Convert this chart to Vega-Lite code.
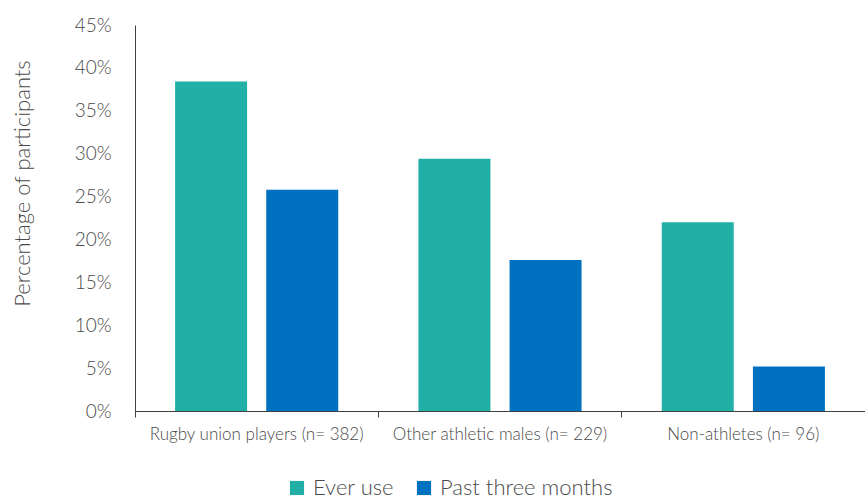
{
  "$schema": "https://vega.github.io/schema/vega-lite/v6.json",
  "width": 730,
  "height": 386,
  "autosize": {"type": "none"},
  "padding": {"left": 135, "top": 25, "right": 0, "bottom": 88},
  "background": "white",
  "data": {
    "values": [
      {"group": "Rugby union players (n= 382)", "series": "Ever use", "value": 0.384},
      {"group": "Rugby union players (n= 382)", "series": "Past three months", "value": 0.258},
      {"group": "Other athletic males (n= 229)", "series": "Ever use", "value": 0.294},
      {"group": "Other athletic males (n= 229)", "series": "Past three months", "value": 0.176},
      {"group": "Non-athletes (n= 96)", "series": "Ever use", "value": 0.220},
      {"group": "Non-athletes (n= 96)", "series": "Past three months", "value": 0.052}
    ]
  },
  "config": {
    "view": {"stroke": null},
    "font": "Lato",
    "axis": {"labelColor": "#4a4a4a", "titleColor": "#4a4a4a", "labelFont": "Lato", "titleFont": "Lato"}
  },
  "mark": {"type": "bar"},
  "encoding": {
    "x": {
      "field": "group", "type": "nominal",
      "sort": ["Rugby union players (n= 382)", "Other athletic males (n= 229)", "Non-athletes (n= 96)"],
      "scale": {"paddingInner": 0, "paddingOuter": 0},
      "axis": {
        "title": null, "labelAngle": 0, "labelFontSize": 17, "labelPadding": 9, "labelLimit": 0,
        "domainColor": "#404040", "tickColor": "#404040", "tickSize": 6,
        "bandPosition": 0, "labelFontWeight": 300
      }
    },
    "xOffset": {
      "field": "series", "type": "nominal",
      "scale": {"paddingInner": 0.21, "paddingOuter": 0.44}
    },
    "y": {
      "field": "value", "type": "quantitative",
      "scale": {"domain": [0, 0.45]},
      "axis": {
        "title": "Percentage of participants", "format": ".0%", "values": [0, 0.05, 0.1, 0.15, 0.2, 0.25, 0.3, 0.35, 0.4, 0.45],
        "grid": false, "ticks": false, "labelFontSize": 19, "labelPadding": 24,
        "titleFontSize": 22, "titleFontWeight": 300, "titlePadding": 40, "labelFontWeight": 300,
        "titleY": 158,
        "domainColor": "#404040"
      }
    },
    "color": {
      "field": "series", "type": "nominal",
      "scale": {"domain": ["Ever use", "Past three months"], "range": ["#22AFA6", "#0070C0"]},
      "legend": {
        "title": null, "orient": "none", "direction": "horizontal",
        "legendX": 151, "legendY": 452,
        "symbolType": "square", "symbolSize": 200, "symbolStrokeWidth": 0,
        "labelFontSize": 22, "labelColor": "#4a4a4a", "labelFontWeight": 300, "labelFont": "Lato",
        "labelLimit": 0, "columnPadding": 18, "labelOffset": 5
      }
    }
  }
}
